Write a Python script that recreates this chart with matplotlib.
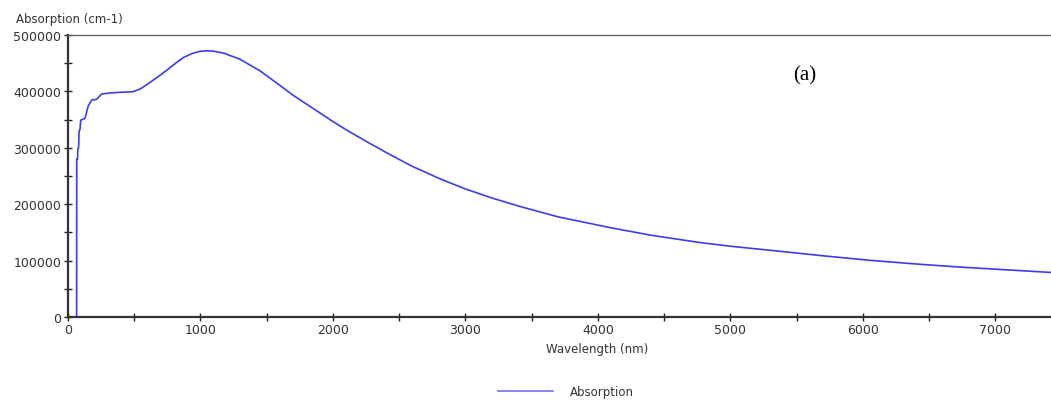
import matplotlib
matplotlib.use("Agg")
import matplotlib.pyplot as plt
from matplotlib.ticker import MultipleLocator, FuncFormatter

# values
wavelength = [65, 66, 72, 74, 80, 84, 90, 96, 128, 153, 179, 216, 254, 317, 392,
              493, 550, 619, 680, 745, 810, 870, 940, 996, 1050, 1100, 1180,
              1298, 1449, 1580, 1700, 1902, 2000, 2103, 2250, 2430, 2600, 2808,
              3000, 3200, 3411, 3700, 4091, 4400, 4770, 5000, 5374, 5700, 6053,
              6400, 6732, 7000, 7420]
absorption = [0, 280000, 280000, 298000, 300000, 330000, 332000, 349000, 352000,
              374600, 384700, 386000, 395400, 397200, 398400, 399500, 405000,
              416000, 426000, 437500, 449500, 460000, 467500, 471000, 472000,
              471300, 467500, 457000, 436500, 414000, 393000, 361700, 346500,
              331500, 311500, 288000, 267000, 245000, 227000, 211000, 196000,
              177500, 158500, 145000, 132000, 125500, 116500, 108500, 100500,
              94000, 88500, 84800, 79000]

W, H = 1051, 402
fig = plt.figure(figsize=(W / 100, H / 100), dpi=100)
ax = fig.add_axes([68 / W, 84 / H, (W - 68) / W, 282 / H])

line, = ax.plot(wavelength, absorption, color="#3c3cf5", lw=1.2)

ax.set_xlim(0, 7420)
ax.set_ylim(0, 500000)
ax.xaxis.set_major_locator(MultipleLocator(1000))
ax.xaxis.set_minor_locator(MultipleLocator(500))
ax.yaxis.set_major_locator(MultipleLocator(100000))
ax.yaxis.set_minor_locator(MultipleLocator(50000))
ax.yaxis.set_major_formatter(FuncFormatter(lambda v, p: f"{int(v)}"))

ax.tick_params(which="both", direction="inout", length=6, width=1, color="#222222",
               labelsize=9, labelcolor="#333333")
ax.tick_params(axis="y", pad=2)
ax.tick_params(axis="x", pad=1)

ax.spines["right"].set_visible(False)
for s in ("left", "bottom"):
    ax.spines[s].set_color("#333333")
    ax.spines[s].set_linewidth(1.6)
ax.spines["top"].set_color("#666666")
ax.spines["top"].set_linewidth(1)

fig.text(16 / W, 1 - 19 / H, "Absorption (cm-1)", ha="left", va="center",
         fontsize=8.5, color="#333333")
fig.text(597 / W, 1 - 350 / H, "Wavelength (nm)", ha="center", va="center",
         fontsize=8.5, color="#333333")
fig.text(805 / W, 1 - 76 / H, "(a)", ha="center", va="center",
         fontsize=15, family="Liberation Serif", color="black")

leg_line, = ax.plot([], [], color="#7070ff", lw=1.2)
fig.legend([leg_line], ["Absorption"], loc="center",
           bbox_to_anchor=(566 / W, 1 - 393 / H), frameon=False,
           handlelength=4.7, handletextpad=1.4, fontsize=8.5,
           labelcolor="#333333")

fig.savefig("out.png", dpi=100)
